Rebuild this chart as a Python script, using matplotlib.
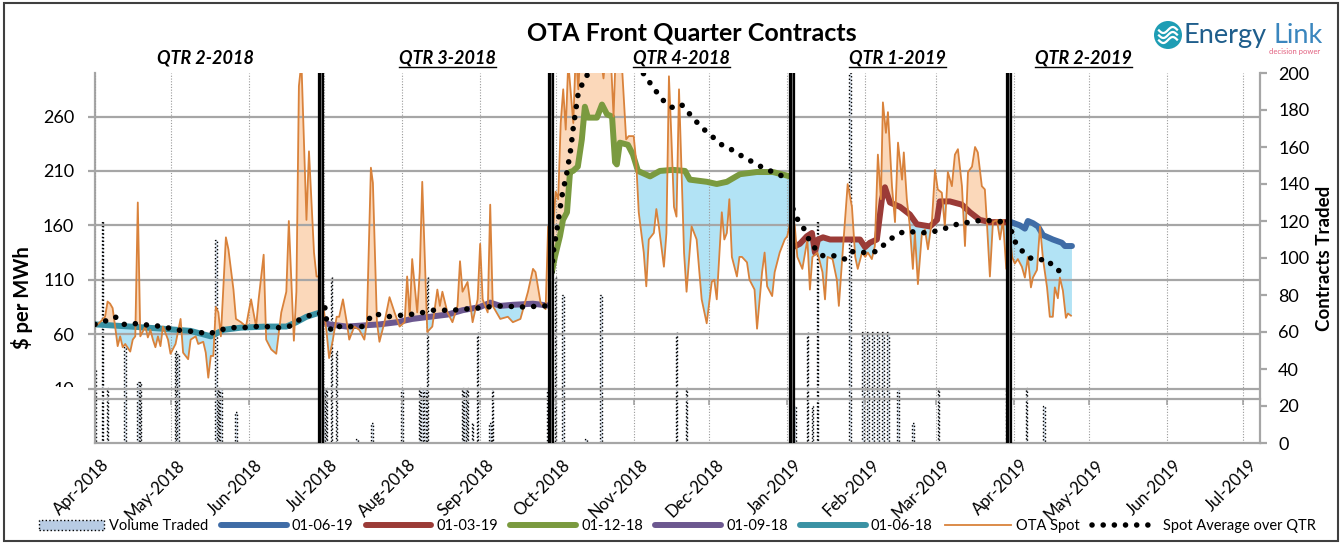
import numpy as np
import matplotlib
matplotlib.use("Agg")
import matplotlib.pyplot as plt
import matplotlib.dates as mdates
from matplotlib.patches import Rectangle, Circle, Patch
from matplotlib.lines import Line2D
from matplotlib.transforms import IdentityTransform, ScaledTranslation

plt.rcParams['font.family'] = ['Lato', 'DejaVu Sans']

# ---------------- data (x values are days since 1 Apr 2018) ----------------
spot_day = [0, 2, 4, 5, 6, 7, 8, 9, 10, 11, 12, 14, 15, 16, 17, 18, 20, 21, 22, 23, 24, 25, 26, 27,
            29, 30, 32, 34, 35, 37, 38, 40, 41, 43, 44, 45, 46, 47, 48, 49, 50, 52, 53, 55, 56, 58,
            60, 61, 62, 64, 65, 67, 68, 70, 72, 74, 76, 77, 79, 80, 81, 82, 84, 85, 87, 88, 89, 90,
            92, 93, 94.5, 96, 97, 98.5, 100, 101, 103, 105, 107, 108, 109.6, 110.4, 112, 113, 115,
            117, 119, 121, 123, 124, 125, 126, 128, 129, 130, 132, 134, 136, 137, 138, 140, 142, 144,
            145, 146, 148, 150, 152, 153, 154, 156, 157, 158, 161, 164, 166, 169, 172, 174, 175, 177,
            179, 180, 181, 182, 183, 184, 185, 186, 187, 188, 190, 191, 192, 193, 195, 197, 199, 200,
            202, 203, 205, 206, 207, 209, 211, 212, 214, 215, 216, 218, 219, 220, 222, 223, 224, 226,
            227, 228, 229, 230, 231, 232, 233, 234, 235, 237, 239, 241, 243, 245, 246, 247, 249, 250,
            251, 252, 253, 255, 256, 257, 259, 260, 262, 263, 265, 266, 267, 269, 270, 272, 274, 275,
            277, 278, 279, 281, 283, 284, 285, 287, 289, 290, 291, 293, 294.7, 295.5, 297, 299, 300.7,
            302, 303, 304.7, 306, 307, 308.6, 309.8, 311, 312.2, 313, 314.2, 315, 316.6, 317.8, 319,
            320.6, 321.3, 322.5, 323.7, 324.9, 325.7, 326.9, 328.5, 329.7, 330.9, 332.5, 333.7, 334.8,
            336.4, 337.6, 338.8, 340.4, 341.6, 342.8, 344.4, 345.6, 346.8, 348.4, 349.6, 350.7, 352.3,
            353.5, 354.3, 355.5, 356.7, 358.3, 359.5, 360.7, 362, 363, 364.3, 365.4, 366.6, 368.2,
            369.4, 370.6, 371.8, 372.6, 374.2, 375.4, 376.6, 378.2, 379.3, 380.5, 381.3, 382.5, 383.3,
            384.5, 385.7, 386.5, 387.7]
spot_price = [67, 71, 76, 90, 88, 84, 67, 49, 58, 48, 51, 44, 55, 58, 181, 58, 67, 57, 64, 55, 48, 58, 49, 67,
              55, 42, 51, 74, 43, 37, 55, 58, 51, 53, 43, 20, 40, 40, 85, 80, 58, 149, 138, 101, 74, 71,
              67, 80, 92, 67, 92, 133, 55, 46, 42, 80, 99, 164, 54, 99, 288, 310, 165, 228, 135, 113, 113, 99,
              62, 38, 55, 76, 76, 92, 71, 55, 67, 64, 55, 71, 213, 199, 71, 53, 71,
              94, 80, 67, 71, 113, 76, 129, 80, 117, 200, 62, 67, 101, 86, 99, 80, 71, 86,
              127, 99, 108, 71, 92, 143, 92, 80, 179, 86, 74, 76, 71, 74, 99, 120, 117, 89,
              83, 159, 117, 159, 191, 184, 254, 285, 248, 310, 254, 320, 285, 330, 310, 340, 310, 330,
              295, 320, 310, 260, 330, 320, 239, 242, 242, 218, 172, 135, 104, 147, 153, 175, 159, 122,
              153, 297, 239, 177, 168, 285, 211, 135, 99, 159, 147, 92, 70, 108, 110, 92, 172, 147,
              153, 184, 131, 113, 131, 131, 126, 110, 101, 65, 117, 135, 104, 95, 117, 135, 147, 150,
              172, 159, 131, 120, 147, 101, 131, 135, 117, 92, 131, 129, 110, 86, 135, 198, 177,
              131, 120, 135, 131, 135, 129, 141, 225, 184, 273, 245, 264, 196, 163, 236,
              202, 227, 184, 159, 120, 153, 106, 153, 156, 138, 165, 211, 193,
              190, 159, 209, 196, 225, 230, 196, 141, 209, 214, 232, 227, 196,
              193, 163, 113, 163, 165, 147, 165, 120, 164, 131, 125, 129, 122,
              112, 131, 103, 112, 119, 159, 129, 103, 76, 76, 103, 93, 112,
              100, 75, 79, 77]

# front quarter contract prices
c0618_day = [0, 14, 27, 38, 46, 51, 58, 68, 76, 80, 84, 89.5]
c0618_val = [69, 67, 65, 63, 58, 64, 66, 67, 67, 71, 76, 80]
c0918_day = [90, 93, 100, 113, 120, 126, 133, 140, 146, 153, 157, 161, 166, 174, 181]
c0918_val = [72, 69, 67, 69, 71, 74, 76, 78, 82, 85, 89, 86, 87, 88, 86]
c1218_day = [181.5, 182.7, 184.7, 185.9, 187.5, 188.7, 189.9, 191.8, 193.4, 194.6, 195.8, 199.4, 201.4,
             203.4, 205.4, 206.6, 207.3, 208.5, 211.7, 213.7, 215.7, 220.5, 224.4, 229.6, 234.4, 236.3,
             243.1, 247, 251, 256.2, 262.9, 269.3, 276.1]
c1218_val = [117, 131, 150, 165, 172, 209, 210, 214, 239, 269, 259, 259, 271,
             262, 260, 218, 216, 236, 234, 225, 210, 205, 210, 211, 210, 202,
             200, 198, 200, 207, 209, 209, 205]
c0319_day = [277.3, 280, 282.8, 284.8, 286, 287.2, 289.2, 292, 303.9, 305.9, 307.8, 310.6, 312.6, 313.8,
             315.8, 319.8, 323.7, 326.5, 331.7, 334.5, 335.6, 339.6, 344.4, 347.6, 351.5, 355.5, 362.3]
c0319_val = [140, 143, 150, 153, 135, 147, 149, 147, 147, 140, 144, 147, 184, 195,
             181, 177, 170, 161, 159, 165, 182, 182, 179, 172, 165, 163, 163]
c0619_day = [362.7, 367.4, 369.4, 370.6, 372.6, 374.6, 376.6, 380.5, 384.1, 385.3, 388.1]
c0619_val = [164, 160, 157, 164, 162, 159, 151, 147, 144, 141, 141]

# spot average over each quarter
avg_q2_18_day = [0, 4, 8, 11.5, 15, 18, 23, 27, 32, 36.5, 41, 45, 50, 54, 59, 64, 68, 73, 77, 81, 85, 88, 89.8]
avg_q2_18_val = [69, 72, 76, 69, 70, 69, 68, 67, 64, 63, 62, 60, 64, 66, 66, 67, 67, 66, 67, 73, 77, 77, 80]
avg_q3_18_day = [90, 91.5, 92, 94, 97, 106, 108, 111, 116, 120, 129, 133, 142, 152, 160, 170, 179, 181]
avg_q3_18_val = [94, 83, 72, 63, 67, 67, 72, 79, 76, 77, 79, 82, 82, 84, 86, 85, 86, 86]
avg_q4_18_day = [181.5, 182, 183.5, 185.5, 187.5, 189, 190, 192, 194, 196, 200, 205, 210, 215, 218.5, 221,
                 223.6, 226.4, 229.6, 233, 235.6, 239, 242, 245.5, 249.5, 253.4, 257.4, 261.4, 265.3,
                 269.3, 273.3, 276]
avg_q4_18_val = [117, 135, 156, 187, 209, 230, 250, 282, 292, 300, 315, 322, 318, 306, 298, 289,
                 281, 273, 268, 271, 264, 255, 248, 241, 233, 229, 223, 218, 213, 209, 205, 204]
avg_q1_19_day = [277.3, 279.2, 281.6, 283.6, 286, 289.2, 294.3, 297.9, 301.1, 305.9, 310.6, 313.8, 317,
                 321, 325.7, 330.5, 334.5, 338.8, 343.6, 348.4, 352.3, 357.1, 361.9]
avg_q1_19_val = [175, 165, 157, 147, 139, 132, 132, 129, 136, 135, 136, 143, 149,
                 154, 154, 153, 155, 158, 162, 163, 165, 164, 163]
avg_q2_19_day = [362.7, 364, 365.5, 368.5, 371.6, 374.2, 378.2, 381.3, 385.3]
avg_q2_19_val = [164, 155, 145, 136, 130, 128, 129, 120, 116]

# volume traded (contracts)
vol_day = [0, 3, 5, 12, 17, 18, 32, 33, 48, 49, 50, 56, 90, 91, 92, 94, 96, 104, 110, 122, 129, 130,
           131, 132, 146, 147, 148, 150, 152, 157, 158, 180, 181, 183, 186, 195, 201, 231, 235, 277,
           278, 283, 285, 287, 300, 305, 307, 309, 311, 313, 315, 319, 325, 335, 362, 363, 370, 377]
vol = [40, 120, 30, 58, 33, 33, 50, 48, 110, 30, 30, 17, 30, 30, 30, 90, 50, 2, 11, 30, 30, 30,
       30, 90, 30, 30, 30, 11, 60, 11, 29, 30, 30, 90, 80, 2, 80, 60, 30, 30,
       20, 60, 20, 120, 200, 60, 60, 60, 60, 60, 60, 30, 11, 30, 30, 30, 30, 20]

quarter_breaks = [89.8, 181, 277, 363]
quarter_names = ["QTR 2-2018", "QTR 3-2018", "QTR 4-2018", "QTR 1-2019", "QTR 2-2019"]
quarter_label_day = [43.7, 140.2, 232.8, 318.6, 392.5]

# ---------------- styling ----------------
ORANGE = '#D9823B'
PEACH = '#FBD8BA'
SKY = '#B2E3F5'
GRID = '#A6A6A6'
contracts = [
    ("01-06-19", c0619_day, c0619_val, '#3F6CA6'),
    ("01-03-19", c0319_day, c0319_val, '#9B3B37'),
    ("01-12-18", c1218_day, c1218_val, '#7A9A3F'),
    ("01-09-18", c0918_day, c0918_val, '#6C5890'),
    ("01-06-18", c0618_day, c0618_val, '#3A92A4'),
]
averages = [(avg_q2_18_day, avg_q2_18_val), (avg_q3_18_day, avg_q3_18_val),
            (avg_q4_18_day, avg_q4_18_val), (avg_q1_19_day, avg_q1_19_val),
            (avg_q2_19_day, avg_q2_19_val)]
DOTS = dict(color='black', lw=4, linestyle=(0, (0.01, 2.0)), dash_capstyle='round')

T0 = mdates.date2num(np.datetime64('2018-04-01'))


def X(days):
    return T0 + np.asarray(days, dtype=float)


W, H = 1341, 544
fig = plt.figure(figsize=(W / 100, H / 100), dpi=100)
ax = fig.add_axes([95 / W, 101 / H, 1165 / W, 370 / H])
ax2 = ax.twinx()
ax.set_zorder(ax2.get_zorder() + 1)
ax.patch.set_visible(False)

# volume bars (secondary axis)
ax2.bar(X(vol_day), vol, width=0.6, color='#DCE6F2', edgecolor='black',
        linestyle=':', linewidth=1.0)
ax2.set_ylim(0, 200)
ax2.set_yticks(range(0, 201, 20))

# fills between spot and contract
s_day = np.asarray(spot_day, float)
s_val = np.asarray(spot_price, float)
for name, cd, cv, col in contracts:
    cd = np.asarray(cd, float)
    m = (s_day >= cd[0]) & (s_day <= cd[-1])
    g = np.unique(np.concatenate([s_day[m], cd]))
    s = np.interp(g, s_day, s_val)
    c = np.interp(g, cd, cv)
    ax.fill_between(X(g), s, c, where=s >= c, interpolate=True, color=PEACH, lw=0, zorder=1)
    ax.fill_between(X(g), s, c, where=s < c, interpolate=True, color=SKY, lw=0, zorder=1)

for name, cd, cv, col in contracts:
    ax.plot(X(cd), cv, color=col, lw=4.3, solid_capstyle='round', zorder=3)

ax.plot(X(spot_day), spot_price, color=ORANGE, lw=1.3, zorder=4)

for d, v in averages:
    ax.plot(X(d), v, zorder=5, **DOTS)

for d in quarter_breaks:
    ax.axvline(X(d), color='black', lw=4.5, zorder=6)
    ax.axvline(X(d), color='#808080', lw=0.6, zorder=7)

# axes
ax.set_ylim(-40, 300)
ax.set_yticks(range(10, 261, 50))
ax.set_xlim(X(0), X(462.8))
ax.xaxis_date()
ax.xaxis.set_major_locator(mdates.MonthLocator())
ax.xaxis.set_major_formatter(mdates.DateFormatter('%b-%Y'))
ax.set_axisbelow(False)
ax.yaxis.grid(True, color=GRID, lw=1.6, zorder=2)
ax.xaxis.grid(True, color='#9A9A9A', lw=0.8, linestyle=(0, (1, 1.5)), zorder=2)

for sp in ['top', 'right']:
    ax.spines[sp].set_visible(False)
for sp in ['top', 'left', 'bottom']:
    ax2.spines[sp].set_visible(False)
ax.spines['left'].set_color(GRID)
ax.spines['left'].set_linewidth(1.6)
ax.spines['bottom'].set_color(GRID)
ax.spines['bottom'].set_linewidth(1.6)
ax2.spines['right'].set_color(GRID)
ax2.spines['right'].set_linewidth(1.6)

ax.tick_params(axis='y', direction='out', length=5, width=1.6, color=GRID, labelsize=13, pad=10)
ax.tick_params(axis='x', length=0, labelsize=12, pad=10)
ax2.tick_params(axis='y', direction='out', length=5, width=1.6, color=GRID, labelsize=13, pad=8)

shift = ScaledTranslation(6 / 100, 0, fig.dpi_scale_trans)
for lab in ax.get_xticklabels():
    lab.set_rotation(45)
    lab.set_ha('right')
    lab.set_va('top')
    lab.set_rotation_mode('anchor')
    lab.set_transform(lab.get_transform() + shift)

# horizontal axis line at $0 with month tick marks
sec = ax.secondary_xaxis(40 / 340)
sec.xaxis.set_major_locator(mdates.MonthLocator())
sec.tick_params(direction='out', length=4, width=1.2, color=GRID, labelbottom=False)
sec.spines['bottom'].set_color(GRID)
sec.spines['bottom'].set_linewidth(1.6)

# lower part of the "10" label is hidden in the original
fig.add_artist(Rectangle((15 / W, (H - 399) / H), 70 / W, 12 / H, transform=fig.transFigure,
                         facecolor='white', edgecolor='none', zorder=10))

# titles and labels
fig.text(692 / W, 1 - 33 / H, "OTA Front Quarter Contracts", ha='center', va='center',
         fontsize=18, weight='bold')
fig.text(22 / W, 1 - 298 / H, "$ per MWh", rotation=90, ha='center', va='center',
         fontsize=14.5, weight='bold')
fig.text(1325 / W, 1 - 258 / H, "Contracts Traded", rotation=90, ha='center', va='center',
         fontsize=13.5, weight='bold')

qtexts = []
for name, d in zip(quarter_names, quarter_label_day):
    t = ax.text(X(d), (443 - 58) / 370, name, transform=ax.get_xaxis_transform(),
                ha='center', va='center', fontsize=13, weight='bold', style='italic')
    qtexts.append(t)

# logo
fig.add_artist(Circle((1168, H - 35), 14, transform=IdentityTransform(),
                      facecolor='#1E9DB4', edgecolor='none'))
tt = np.linspace(-1, 1, 30)
for off in (-5, 0, 5):
    fig.add_artist(Line2D(1168 + 9 * tt, H - 35 + off + 3 * np.sin(tt * 3), transform=IdentityTransform(),
                          color='white', lw=1.6))
fig.text(1183 / W, 1 - 43 / H, "Energy", fontsize=19.5, color='#1F5E8C', va='baseline')
fig.text(1273 / W, 1 - 43 / H, "Link", fontsize=19.5, color='#3A86BE', va='baseline')
fig.text(1320 / W, 1 - 54 / H, "decision power", fontsize=5.5, color='#E2607F', ha='right',
         va='baseline')

# legend
handles = [Patch(facecolor='#B8CCE4', edgecolor='black', linestyle=':', linewidth=1.0)]
labels = ["Volume Traded"]
for name, cd, cv, col in contracts:
    handles.append(Line2D([], [], color=col, lw=4.3, solid_capstyle='round'))
    labels.append(name)
handles.append(Line2D([], [], color=ORANGE, lw=1.3))
labels.append("OTA Spot")
handles.append(Line2D([], [], **DOTS))
labels.append("Spot Average over QTR")
fig.legend(handles, labels, loc='center', bbox_to_anchor=(677 / W, 1 - 526 / H), ncol=8,
           frameon=False, fontsize=10.5, handlelength=4.5, handletextpad=0.35, columnspacing=0.85)

# frame
fig.add_artist(Rectangle((4 / W, 3 / H), 1334 / W, 538 / H, transform=fig.transFigure,
                         facecolor='none', edgecolor='#3F3F3F', lw=1.5, zorder=11))

# underline quarter labels (all but the first)
fig.canvas.draw()
for t in qtexts[1:]:
    bb = t.get_window_extent()
    fig.add_artist(Line2D([bb.x0, bb.x1], [bb.y0, bb.y0], transform=IdentityTransform(),
                          color='black', lw=1.0))

fig.savefig("out.png", dpi=100)
